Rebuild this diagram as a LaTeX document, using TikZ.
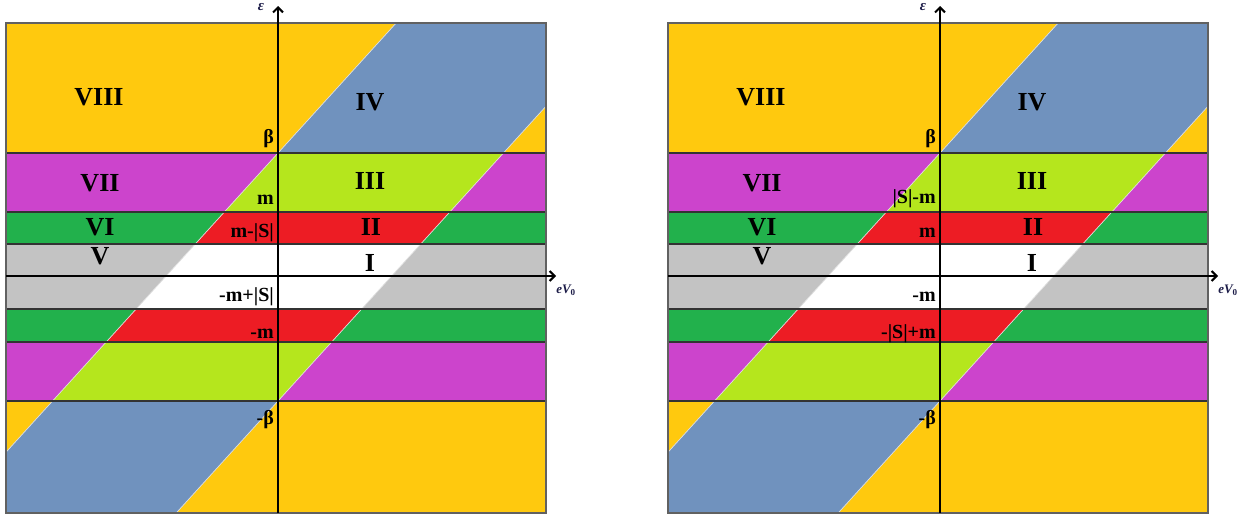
\documentclass[tikz,border=0pt]{standalone}
\usepackage{fontspec}
\setmainfont{Liberation Serif}
\usetikzlibrary{arrows.meta}
\definecolor{cYel}{HTML}{FFC90E}
\definecolor{cBlu}{HTML}{7092BE}
\definecolor{cMag}{HTML}{CC44CC}
\definecolor{cLim}{HTML}{B5E61D}
\definecolor{cGrn}{HTML}{22B14C}
\definecolor{cRed}{HTML}{ED1C24}
\definecolor{cGry}{HTML}{C3C3C3}
\definecolor{cNavy}{HTML}{1C1C48}
\tikzset{
  bandline/.style={draw=black!80, line width=1.3pt},
  frameline/.style={draw=black!62, line width=2pt},
  diagline/.style={draw=white!75!gray, line width=0.7pt},
  axisline/.style={draw=black, line width=2pt, -{Straight Barb[length=5pt,width=10pt,line width=2pt]}},
  roman/.style={font=\fontsize{26}{26}\selectfont\bfseries, inner sep=0pt},
  lbl/.style={font=\fontsize{20}{20}\selectfont\bfseries, inner sep=0pt, anchor=base east},
  axlbl/.style={font=\fontsize{15}{15}\selectfont\bfseries\itshape, text=cNavy, inner sep=0pt}
}
\newcommand{\drawpanel}[6]{%
\begin{scope}[shift={(#1,0)}]
  % base bands
  \fill[cYel] (-272,23) rectangle (268,153);
  \fill[cMag] (-272,153) rectangle (268,212);
  \fill[cGrn] (-272,212) rectangle (268,244);
  \fill[cGry] (-272,244) rectangle (268,309);
  \fill[cGrn] (-272,309) rectangle (268,342);
  \fill[cMag] (-272,342) rectangle (268,401);
  \fill[cYel] (-272,401) rectangle (268,513);
  % shifted strip
  \begin{scope}
    \clip (-400,593) -- (400,-287) -- (400,-39) -- (-400,841) -- cycle;
    \fill[cBlu] (-272,23) rectangle (268,153);
    \fill[cLim] (-272,153) rectangle (268,212);
    \fill[cRed] (-272,212) rectangle (268,244);
    \fill[white] (-272,244) rectangle (268,309);
    \fill[cRed] (-272,309) rectangle (268,342);
    \fill[cLim] (-272,342) rectangle (268,401);
    \fill[cBlu] (-272,401) rectangle (268,513);
  \end{scope}
  \begin{scope}
    \clip (-272,23) rectangle (268,513);
    \coordinate (#2a1) at (-400,593); \coordinate (#2a2) at (400,-287);
    \coordinate (#2b1) at (-400,841); \coordinate (#2b2) at (400,-39);
    \draw[diagline] (#2a1) -- (#2a2);
    \draw[diagline] (#2b1) -- (#2b2);
  \end{scope}
  \foreach \yy in {153,212,244,309,342,401}{
    \draw[bandline] (-272,\yy) -- (268,\yy);
  }
  \draw[frameline] (-272,23) rectangle (268,513);
  % axes
  \coordinate (#2ybot) at (0,513);
  \coordinate (#2ytop) at (0,6);
  \coordinate (#2xl) at (-272,276);
  \coordinate (#2xr) at (278,276);
  \draw[axisline] (#2ybot) -- (#2ytop);
  \draw[axisline] (#2xl) -- (#2xr);
  \node[axlbl] (#2eps) at (-17,7) {ε};
  \node[axlbl, font=\fontsize{13}{13}\selectfont\bfseries\itshape] (#2ev) at (288,290) {eV\textsubscript{\upshape 0}};
  % region labels
  \node[roman] (#2VIII) at (-179,97) {VIII};
  \node[roman] (#2IV) at (92,102) {IV};
  \node[roman] (#2VII) at (-178,183) {VII};
  \node[roman] (#2III) at (92,181) {III};
  \node[roman] (#2VI) at (-178,227) {VI};
  \node[roman] (#2II) at (93,227) {II};
  \node[roman] (#2V) at (-178,256) {V};
  \node[roman] (#2I) at (92,263) {I};
  % level labels
  \node[lbl] (#2beta) at (-4,143) {β};
  \node[lbl] (#2l1) at (-4,#4) {#3};
  \node[lbl] (#2l2) at (-4,237) {#5};
  \node[lbl] (#2l3) at (-4,301) {#6};
  \node[lbl] (#2mbeta) at (-4,424) {-β};
\end{scope}}
\newcommand{\lowerlabel}[3]{\node[lbl] (#1) at (#2,338) {#3};}
\begin{document}
\begin{tikzpicture}[x=1pt,y=-1pt]
\useasboundingbox (0,0) rectangle (1251,517);
\drawpanel{278}{L}{m}{204}{m-|S|}{-m+|S|}
\lowerlabel{Lm}{274}{-m}
\drawpanel{940}{R}{|S|-m}{203}{m}{-m}
\lowerlabel{Rm}{936}{-|S|+m}
\end{tikzpicture}
\end{document}
